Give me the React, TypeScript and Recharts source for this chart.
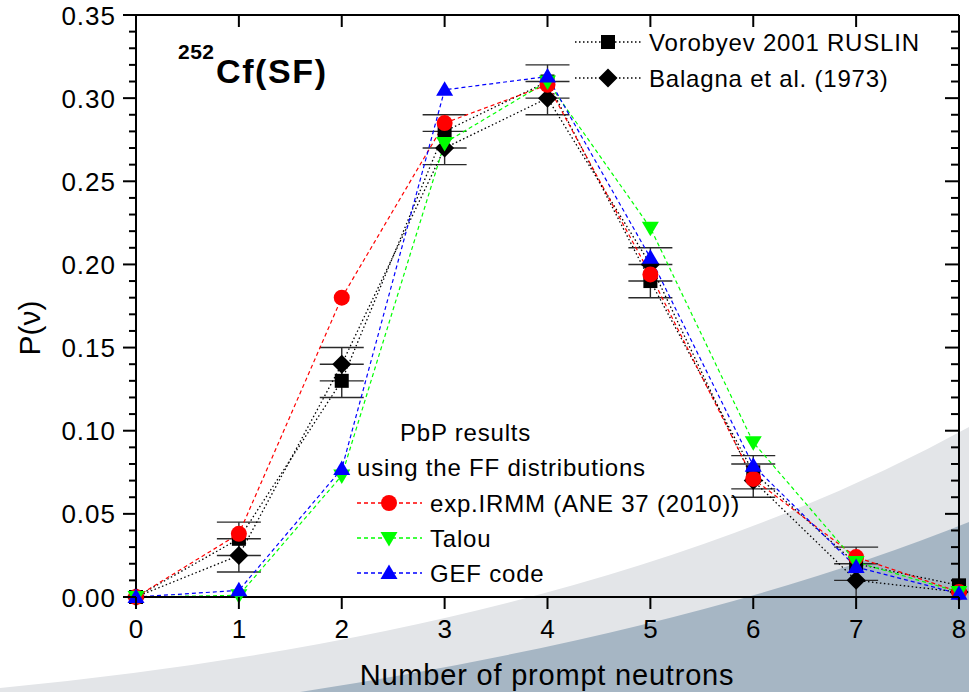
import React from 'react';
import { ComposedChart, Line, XAxis, YAxis, ErrorBar } from 'recharts';

// ---------- data ----------
const nu = [0, 1, 2, 3, 4, 5, 6, 7, 8];
const vorobyev = [0, 0.035, 0.13, 0.28, 0.31, 0.19, 0.075, 0.02, 0.007];
const vorobyevErr = [null, 0.01, 0.01, 0.01, 0.01, 0.01, 0.01, 0.01, null];
const balagna = [0, 0.025, 0.14, 0.27, 0.3, 0.2, 0.07, 0.01, 0.003];
const balagnaErr = [null, 0.01, 0.01, 0.01, 0.01, 0.01, 0.01, 0.01, null];
const irmm = [0, 0.038, 0.18, 0.285, 0.308, 0.194, 0.071, 0.024, 0.003];
const talou = [0, 0.001, 0.073, 0.273, 0.31, 0.222, 0.093, 0.021, 0.003];
const gef = [0, 0.004, 0.077, 0.305, 0.313, 0.204, 0.079, 0.018, 0.002];

const xTicks = [0, 1, 2, 3, 4, 5, 6, 7, 8];
const yMajorTicks = [0, 0.05, 0.1, 0.15, 0.2, 0.25, 0.3, 0.35];
const yAllTicks = [
  0, 0.01, 0.02, 0.03, 0.04, 0.05, 0.06, 0.07, 0.08, 0.09, 0.1, 0.11, 0.12, 0.13, 0.14, 0.15, 0.16, 0.17,
  0.18, 0.19, 0.2, 0.21, 0.22, 0.23, 0.24, 0.25, 0.26, 0.27, 0.28, 0.29, 0.3, 0.31, 0.32, 0.33, 0.34, 0.35,
];

const seriesNames = {
  vor: 'Vorobyev 2001 RUSLIN',
  bal: 'Balagna et al. (1973)',
  irmm: 'exp.IRMM (ANE 37 (2010))',
  talou: 'Talou',
  gef: 'GEF code',
};

const data = nu.map((n, i) => ({
  nu: n,
  vor: vorobyev[i],
  vorErr: vorobyevErr[i],
  bal: balagna[i],
  balErr: balagnaErr[i],
  irmm: irmm[i],
  talou: talou[i],
  gef: gef[i],
}));

// ---------- styles ----------
const FONT = '"Liberation Sans", Arial, Helvetica, sans-serif';
const RED = '#ff0000';
const GREEN = '#00ff00';
const BLUE = '#0000ff';

const isMajor = (v: number) => yMajorTicks.some((m) => Math.abs(m - v) < 1e-6);

// ---------- marker shapes ----------
const Square = ({ cx, cy, s = 14 }: any) => (
  <rect x={cx - s / 2} y={cy - s / 2} width={s} height={s} fill="#000" />
);
const Diamond = ({ cx, cy, r = 9.5 }: any) => (
  <polygon points={`${cx},${cy - r} ${cx + r},${cy} ${cx},${cy + r} ${cx - r},${cy}`} fill="#000" />
);
const Circle = ({ cx, cy, r = 8 }: any) => <circle cx={cx} cy={cy} r={r} fill={RED} />;
const TriDown = ({ cx, cy }: any) => (
  <polygon points={`${cx - 8.5},${cy - 6} ${cx + 8.5},${cy - 6} ${cx},${cy + 8.5}`} fill={GREEN} />
);
const TriUp = ({ cx, cy }: any) => (
  <polygon points={`${cx - 8.5},${cy + 6} ${cx + 8.5},${cy + 6} ${cx},${cy - 8.5}`} fill={BLUE} />
);

const dotFn = (Shape: any, name: string) => (p: any) => {
  if (p.cx == null || p.cy == null) return <g key={`${name}-${p.index}`} />;
  return (
    <g key={`${name}-${p.index}`}>
      <Shape cx={p.cx} cy={p.cy} />
    </g>
  );
};

// ---------- ticks ----------
const LeftTick = (props: any) => {
  const { x, y, payload } = props;
  const v = payload.value as number;
  const major = isMajor(v);
  return (
    <g>
      <line x1={x - (major ? 13 : 7)} x2={x} y1={y} y2={y} stroke="#000" strokeWidth={2} />
      {major && (
        <text x={x - 20} y={y + 9.5} textAnchor="end" fontSize={26} letterSpacing={1} fontFamily={FONT} fill="#000">
          {v.toFixed(2)}
        </text>
      )}
    </g>
  );
};

const RightTick = (props: any) => {
  const { x, y, payload } = props;
  const v = payload.value as number;
  const major = isMajor(v);
  return <line x1={x} x2={x - (major ? 14 : 8)} y1={y} y2={y} stroke="#000" strokeWidth={2} />;
};

const BottomTick = (props: any) => {
  const { x, y, payload } = props;
  return (
    <g>
      <line x1={x} x2={x} y1={y} y2={y + 12} stroke="#000" strokeWidth={2} />
      <text x={x} y={y + 41} textAnchor="middle" fontSize={26} fontFamily={FONT} fill="#000">
        {payload.value}
      </text>
    </g>
  );
};

const TopTick = (props: any) => {
  const { x, y } = props;
  return <line x1={x} x2={x} y1={y} y2={y + 12} stroke="#000" strokeWidth={2} />;
};

// ---------- legend pieces ----------
const LegendRow = ({ x1, x2, mx, y, stroke, dash, Shape, label, tx }: any) => (
  <g>
    <line x1={x1} x2={x2} y1={y} y2={y} stroke={stroke} strokeWidth={1.3} strokeDasharray={dash} />
    <Shape cx={mx} cy={y} />
    <text x={tx} y={y + 8.5} fontSize={24} letterSpacing={0.8} fontFamily={FONT} fill="#000">
      {label}
    </text>
  </g>
);

const DOT_DASH = '1.5 2.5';
const DASH = '4 3';

export default function App() {
  return (
    <div style={{ position: 'absolute', left: 0, top: 0, width: 969, height: 692, overflow: 'hidden', background: '#fff' }}>
      {/* decorative background bands */}
      <svg width={969} height={692} style={{ position: 'absolute', left: 0, top: 0 }}>
        <path d="M0,688 Q600,630 969,427 L969,692 L0,692 Z" fill="#e3e5e8" />
        <path d="M300,692 Q700,630 969,522 L969,692 Z" fill="#a6b6c4" />
      </svg>

      <div style={{ position: 'absolute', left: 0, top: 0 }}>
        <ComposedChart width={969} height={692} data={data} margin={{ top: 14, right: 0, bottom: 0, left: 0 }}>
          <XAxis
            xAxisId="b"
            dataKey="nu"
            type="number"
            domain={[0, 8]}
            ticks={xTicks}
            interval={0}
            height={95}
            tickSize={0}
            tickMargin={0}
            tickLine={false}
            axisLine={{ stroke: '#000', strokeWidth: 2 }}
            tick={<BottomTick />}
          />
          <XAxis
            xAxisId="t"
            orientation="top"
            type="number"
            domain={[0, 8]}
            allowDataOverflow
            ticks={xTicks}
            interval={0}
            height={1}
            tickSize={0}
            tickMargin={0}
            tickLine={false}
            axisLine={{ stroke: '#000', strokeWidth: 2 }}
            tick={<TopTick />}
          />
          <YAxis
            yAxisId="l"
            type="number"
            domain={[0, 0.35]}
            ticks={yAllTicks}
            interval={0}
            width={136}
            tickSize={0}
            tickMargin={0}
            tickLine={false}
            axisLine={{ stroke: '#000', strokeWidth: 2 }}
            tick={<LeftTick />}
          />
          <YAxis
            yAxisId="r"
            orientation="right"
            type="number"
            domain={[0, 0.35]}
            allowDataOverflow
            ticks={yAllTicks}
            interval={0}
            width={10}
            tickSize={0}
            tickMargin={0}
            tickLine={false}
            axisLine={{ stroke: '#000', strokeWidth: 2 }}
            tick={<RightTick />}
          />

          <Line
            xAxisId="b"
            yAxisId="l"
            name={seriesNames.vor}
            dataKey="vor"
            type="linear"
            stroke="#000"
            strokeWidth={1.3}
            strokeDasharray={DOT_DASH}
            dot={dotFn(Square, 'vor')}
            activeDot={false}
            isAnimationActive={false}
          >
            <ErrorBar dataKey="vorErr" direction="y" width={22} stroke="#2a2a2a" strokeWidth={1.4} />
          </Line>
          <Line
            xAxisId="b"
            yAxisId="l"
            name={seriesNames.bal}
            dataKey="bal"
            type="linear"
            stroke="#000"
            strokeWidth={1.3}
            strokeDasharray={DOT_DASH}
            dot={dotFn(Diamond, 'bal')}
            activeDot={false}
            isAnimationActive={false}
          >
            <ErrorBar dataKey="balErr" direction="y" width={22} stroke="#2a2a2a" strokeWidth={1.4} />
          </Line>
          <Line
            xAxisId="b"
            yAxisId="l"
            name={seriesNames.irmm}
            dataKey="irmm"
            type="linear"
            stroke={RED}
            strokeWidth={1.2}
            strokeDasharray={DASH}
            dot={dotFn(Circle, 'irmm')}
            activeDot={false}
            isAnimationActive={false}
          />
          <Line
            xAxisId="b"
            yAxisId="l"
            name={seriesNames.talou}
            dataKey="talou"
            type="linear"
            stroke={GREEN}
            strokeWidth={1.2}
            strokeDasharray={DASH}
            dot={dotFn(TriDown, 'talou')}
            activeDot={false}
            isAnimationActive={false}
          />
          <Line
            xAxisId="b"
            yAxisId="l"
            name={seriesNames.gef}
            dataKey="gef"
            type="linear"
            stroke={BLUE}
            strokeWidth={1.2}
            strokeDasharray={DASH}
            dot={dotFn(TriUp, 'gef')}
            activeDot={false}
            isAnimationActive={false}
          />
        </ComposedChart>
      </div>

      {/* titles and legends */}
      <svg width={969} height={692} style={{ position: 'absolute', left: 0, top: 0, pointerEvents: 'none' }}>
        <text x={178} y={59} fontSize={21} fontWeight="bold" letterSpacing={0.5} fontFamily={FONT} fill="#000">
          252
        </text>
        <text x={216} y={83} fontSize={34} fontWeight="bold" letterSpacing={1.6} fontFamily={FONT} fill="#000">
          Cf(SF)
        </text>

        <text
          x={40}
          y={328}
          fontSize={30}
          textAnchor="middle"
          fontFamily={FONT}
          fill="#000"
          transform="rotate(-90 40 328)"
        >
          P(ν)
        </text>
        <text x={547} y={685} fontSize={29} letterSpacing={0.8} textAnchor="middle" fontFamily={FONT} fill="#000">
          Number of prompt neutrons
        </text>

        <LegendRow x1={575} x2={642} mx={608} y={42} stroke="#000" dash={DOT_DASH} Shape={Square} label={seriesNames.vor} tx={649} />
        <LegendRow x1={575} x2={642} mx={608} y={78} stroke="#000" dash={DOT_DASH} Shape={Diamond} label={seriesNames.bal} tx={649} />

        <text x={400} y={441} fontSize={24} letterSpacing={0.8} fontFamily={FONT} fill="#000">
          PbP results
        </text>
        <text x={357} y={476} fontSize={24} letterSpacing={0.8} fontFamily={FONT} fill="#000">
          using the FF distributions
        </text>
        <LegendRow x1={357} x2={422} mx={389} y={503} stroke={RED} dash={DASH} Shape={Circle} label={seriesNames.irmm} tx={430} />
        <LegendRow x1={357} x2={422} mx={389} y={538} stroke={GREEN} dash={DASH} Shape={TriDown} label={seriesNames.talou} tx={430} />
        <LegendRow x1={357} x2={422} mx={389} y={573} stroke={BLUE} dash={DASH} Shape={TriUp} label={seriesNames.gef} tx={430} />
      </svg>
    </div>
  );
}
